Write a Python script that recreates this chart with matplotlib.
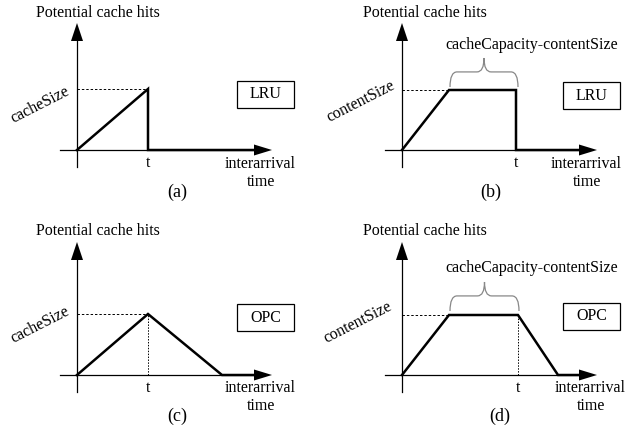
import matplotlib.pyplot as plt
from matplotlib.path import Path
from matplotlib.patches import PathPatch, Rectangle

plt.rcParams['font.family'] = ['Liberation Serif', 'DejaVu Serif']
plt.rcParams['font.size'] = 11.5

# panel data, local units = pixels, origin at axes crossing
labels = ['(a)', '(b)', '(c)', '(d)']
policies = ['LRU', 'LRU', 'OPC', 'OPC']
ylabels = ['cacheSize', 'contentSize', 'cacheSize', 'contentSize']
curve_x = [[0, 71, 71, 176], [0, 47, 114, 114, 176], [0, 71, 145, 176], [0, 47, 116, 156, 176]]
curve_y = [[0, 61, 0, 0], [0, 60, 60, 0, 0], [0, 61, 0, 0], [0, 60, 60, 0, 0]]
t_pos = [71, 114, 71, 116]
level = [61, 60, 61, 60]
brace_span = [None, (48, 116), None, (48, 117)]
drop_dotted = [False, False, True, True]

# placement of each panel: origin in its quadrant (px) and layout offsets
origins = [(77, 150), (81, 150), (77, 162), (81, 162)]
title_pos = [(-41, 137), (-39, 137), (-41, 144), (-39, 144)]
ylab_pos = [(-37, 45), (-41, 48), (-37, 50), (-44, 52)]
iat_x = [183, 184, 183, 188]
iat_y = [-14, -14, -13, -13]
cap_pos = [(100, -42), (89, -42), (100, -41), (98, -41)]
box_pos = [(160, 42), (161, 41), (160, 44), (161, 45)]
brace_y = [None, 63, None, 64]
brace_lab_y = [None, 105, None, 107]

fig = plt.figure(figsize=(6.42, 4.26), dpi=100)


def brace(ax, x0, x1, yb, h):
    ym = yb + h * 0.52
    yt = yb + h
    xc = (x0 + x1) / 2
    r = 7
    verts = [(x0, yb), (x0, ym), (x0 + r, ym), (xc - r, ym), (xc, ym), (xc, yt),
             (xc, ym), (xc + r, ym), (x1 - r, ym), (x1, ym), (x1, yb)]
    codes = [Path.MOVETO, Path.CURVE3, Path.CURVE3, Path.LINETO, Path.CURVE3, Path.CURVE3,
             Path.CURVE3, Path.CURVE3, Path.LINETO, Path.CURVE3, Path.CURVE3]
    ax.add_patch(PathPatch(Path(verts, codes), fill=False, ec='#888888', lw=0.9))


for i in range(4):
    col, row = i % 2, i // 2
    ax = fig.add_axes([col * 0.5, 0.5 - row * 0.5, 0.5, 0.5])
    ox, oy = origins[i]
    ax.set_xlim(-ox, 321 - ox)
    ax.set_ylim(oy - 213, oy)
    ax.axis('off')

    top = 127 if row == 0 else 133
    # axes with arrows
    ax.plot([0, 0], [-17, top - 17], color='k', lw=0.9)
    ax.arrow(0, top - 18, 0, 18, head_width=12, head_length=18,
             length_includes_head=True, fc='k', ec='k', lw=0)
    ax.plot([-17, 178], [0, 0], color='k', lw=0.9)
    ax.arrow(177, 0, 18, 0, head_width=11, head_length=18,
             length_includes_head=True, fc='k', ec='k', lw=0)

    # guides
    ax.plot([0, curve_x[i][1]], [level[i], level[i]], color='k', lw=0.7, ls=(0, (2.5, 2)))
    if drop_dotted[i]:
        ax.plot([t_pos[i], t_pos[i]], [0, level[i]], color='k', lw=0.7, ls=(0, (1.5, 1.5)))

    ax.plot(curve_x[i], curve_y[i], color='k', lw=1.8, solid_joinstyle='miter')

    ax.text(*title_pos[i], 'Potential cache hits', ha='left', va='center')
    ax.text(*ylab_pos[i], ylabels[i], ha='center', va='center', rotation=27)
    ax.text(t_pos[i], -13, 't', ha='center', va='center')
    ax.text(iat_x[i], iat_y[i], 'interarrival', ha='center', va='center')
    ax.text(iat_x[i] + 1, iat_y[i] - 18, 'time', ha='center', va='center')
    ax.text(*cap_pos[i], labels[i], ha='center', va='center', fontsize=13)

    bx, by = box_pos[i]
    ax.add_patch(Rectangle((bx, by), 57, 27, fill=False, ec='k', lw=0.9))
    ax.text(bx + 28.5, by + 13.5, policies[i], ha='center', va='center')

    if brace_span[i] is not None:
        x0, x1 = brace_span[i]
        brace(ax, x0, x1, brace_y[i], 29)
        ax.text(130, brace_lab_y[i], 'cacheCapacity-contentSize', ha='center', va='center')

fig.savefig('out.png', dpi=100)
